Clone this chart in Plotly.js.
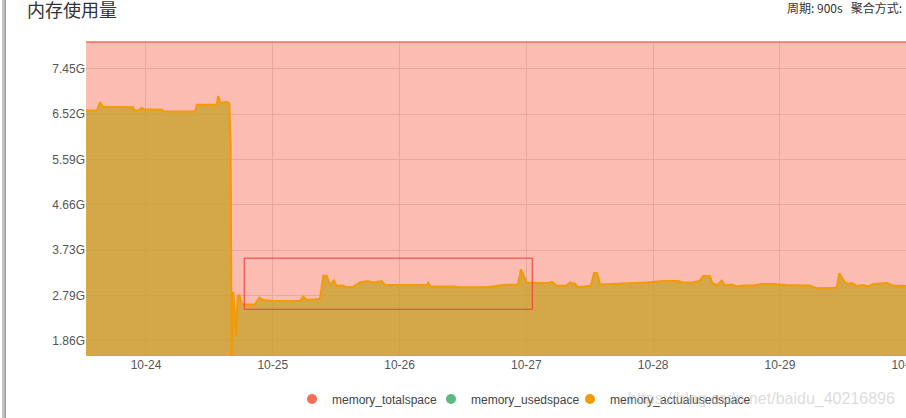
<!DOCTYPE html>
<html>
<head>
<meta charset="utf-8">
<script src="https://cdn.plot.ly/plotly-3.0.1.min.js"></script>
<style>
html,body{margin:0;padding:0;overflow:hidden;background:#fff;width:906px;height:418px;}
#wrap{position:relative;width:906px;height:418px;overflow:hidden;}
#chart{position:absolute;left:0;top:0;width:1060px;height:418px;}
#edge{position:absolute;left:2px;top:0;width:4px;height:418px;background:linear-gradient(to right,#c8c8c8 0,#bdbdbd 60%,#8c8c8c 100%);z-index:5;}
</style>
</head>
<body>
<div id="wrap"><div id="chart"></div><div id="edge"></div></div>
<script>
// ---- data (memory in GiB) ----
const sampleTimes = [
 '2019-10-23 12:39','2019-10-23 14:43','2019-10-23 15:18','2019-10-23 15:52','2019-10-23 21:32',
 '2019-10-23 21:55','2019-10-23 22:40','2019-10-23 23:11','2019-10-23 23:37','2019-10-24 02:58',
 '2019-10-24 03:24','2019-10-24 09:16','2019-10-24 09:39','2019-10-24 13:23','2019-10-24 13:41',
 '2019-10-24 14:08','2019-10-24 15:16','2019-10-24 15:46','2019-10-24 16:02','2019-10-24 16:13',
 '2019-10-24 16:31','2019-10-24 16:51','2019-10-24 17:02','2019-10-24 17:21','2019-10-24 17:40',
 '2019-10-24 18:07','2019-10-24 18:44','2019-10-24 20:38','2019-10-24 21:27','2019-10-24 22:12',
 '2019-10-25 00:02','2019-10-25 05:09','2019-10-25 05:46','2019-10-25 06:25','2019-10-25 08:56',
 '2019-10-25 09:34','2019-10-25 10:12','2019-10-25 10:50','2019-10-25 11:35','2019-10-25 12:06',
 '2019-10-25 13:17','2019-10-25 13:59','2019-10-25 15:11','2019-10-25 16:30','2019-10-25 18:01',
 '2019-10-25 18:58','2019-10-25 20:37','2019-10-25 21:14','2019-10-26 05:08','2019-10-26 05:26',
 '2019-10-26 05:45','2019-10-26 10:07','2019-10-26 11:26','2019-10-26 16:29','2019-10-26 19:34',
 '2019-10-26 22:25','2019-10-26 22:59','2019-10-26 23:33','2019-10-27 00:04','2019-10-27 01:15',
 '2019-10-27 04:28','2019-10-27 04:51','2019-10-27 05:44','2019-10-27 07:38','2019-10-27 08:15',
 '2019-10-27 09:12','2019-10-27 09:46','2019-10-27 11:40','2019-10-27 12:14','2019-10-27 12:48',
 '2019-10-27 13:25','2019-10-27 13:56','2019-10-27 16:24','2019-10-27 17:43','2019-10-27 22:46',
 '2019-10-28 01:55','2019-10-28 04:45','2019-10-28 05:24','2019-10-28 07:32','2019-10-28 08:14',
 '2019-10-28 08:52','2019-10-28 09:29','2019-10-28 10:45','2019-10-28 11:11','2019-10-28 12:01',
 '2019-10-28 12:58','2019-10-28 13:36','2019-10-28 14:52','2019-10-28 15:49','2019-10-28 17:04',
 '2019-10-28 18:57','2019-10-28 20:33','2019-10-28 22:44','2019-10-29 01:16','2019-10-29 03:48',
 '2019-10-29 05:41','2019-10-29 06:57','2019-10-29 10:44','2019-10-29 11:14','2019-10-29 11:41',
 '2019-10-29 12:18','2019-10-29 12:56','2019-10-29 13:35','2019-10-29 14:31','2019-10-29 15:46',
 '2019-10-29 16:43','2019-10-29 17:40','2019-10-29 20:12','2019-10-29 21:27','2019-10-29 23:51',
 '2019-10-30 01:34'
];
const actualUsedSpace = [
 6.59,6.59,6.76,6.67,6.66,
 6.59,6.60,6.65,6.62,6.61,
 6.57,6.57,6.71,6.71,6.89,
 6.74,6.77,6.74,5.85,1.00,
 2.87,2.44,1.95,2.77,2.81,
 2.63,2.61,2.61,2.75,2.70,
 2.68,2.68,2.77,2.70,2.72,
 3.20,3.20,3.01,3.10,2.99,
 3.00,2.96,2.97,3.06,3.09,
 3.06,3.09,3.01,3.01,3.05,
 2.98,2.98,2.96,2.96,3.01,
 3.02,3.33,3.18,3.06,3.05,
 3.05,3.07,2.99,3.00,3.06,
 3.03,2.96,2.99,3.00,3.26,
 3.25,3.02,3.03,3.05,3.06,
 3.09,3.09,3.06,3.06,3.08,
 3.10,3.20,3.19,3.05,3.00,
 3.10,3.00,3.02,2.98,3.00,
 3.00,3.03,3.03,3.01,3.01,
 3.00,2.94,2.95,3.25,3.18,
 3.06,3.03,3.05,2.99,3.01,
 2.98,3.03,3.05,3.00,2.99,
 3.00
];
const totalTimes = ['2019-10-23 12:00','2019-10-24 00:00','2019-10-25 00:00','2019-10-26 00:00',
 '2019-10-27 00:00','2019-10-28 00:00','2019-10-29 00:00','2019-10-30 00:00','2019-10-31 00:00'];
const totalSpace = [8.0,8.0,8.0,8.0,8.0,8.0,8.0,8.0,8.0];
const seriesNames = ['memory_totalspace','memory_usedspace','memory_actualusedspace'];
const yTickValues = [1.8626,2.7940,3.7253,4.6566,5.5879,6.5193,7.4506];
const yTickLabels = ['1.86G','2.79G','3.73G','4.66G','5.59G','6.52G','7.45G'];
// highlighted region (drawn box on screenshot)
const boxX = ['2019-10-24 18:36','2019-10-27 01:07'];
const boxY = [2.51,3.56];

const RED = '#f56c58', GREEN = '#5cb885', ORANGE = '#f39a05';
const latin = 'Liberation Sans, Arial, sans-serif';
const cjk = 'Noto Sans CJK SC, sans-serif';

const traces = [
 {x: totalTimes, y: totalSpace, type:'scatter', mode:'lines', fill:'tozeroy',
  line:{color:RED, width:1.5}, fillcolor:'rgba(247,108,88,0.46)', showlegend:false, hoverinfo:'skip'},
 {x: sampleTimes, y: actualUsedSpace, type:'scatter', mode:'lines', fill:'tozeroy',
  line:{color:ORANGE, width:2}, fillcolor:'rgba(195,160,29,0.70)', showlegend:false, hoverinfo:'skip'},
 {x:[null], y:[null], type:'scatter', mode:'markers', name:seriesNames[0], marker:{color:RED, size:10}},
 {x:[null], y:[null], type:'scatter', mode:'markers', name:seriesNames[1], marker:{color:GREEN, size:10}},
 {x:[null], y:[null], type:'scatter', mode:'markers', name:seriesNames[2], marker:{color:ORANGE, size:10}},
 // spacer entry so the last legend label is not clipped
 {x:[null], y:[null], type:'scatter', mode:'markers', name:' ', marker:{color:'rgba(0,0,0,0)', size:10}}
];

const layout = {
 width:1060, height:418,
 margin:{l:86, r:40, t:41, b:62, pad:0},
 paper_bgcolor:'#fff', plot_bgcolor:'#fff',
 title:{text:'内存使用量', font:{family:cjk, size:18, color:'#333'}, xref:'container', yref:'container',
        x:27/1060, xanchor:'left', y:1-11/418, yanchor:'middle'},
 xaxis:{type:'date', range:['2019-10-23 12:39','2019-10-30 21:26'], tick0:'2019-10-24', dtick:86400000,
        tickformat:'%m-%d', showgrid:true, gridcolor:'#e0d9d9', gridwidth:1, zeroline:false, showline:false,
        ticks:'', tickfont:{family:latin, size:12, color:'#555'}, fixedrange:true},
 yaxis:{range:[1.55,8.02], tickvals:yTickValues, ticktext:yTickLabels, showgrid:true, gridcolor:'#e0d9d9',
        gridwidth:1, zeroline:false, showline:false, ticks:'', tickfont:{family:latin, size:12, color:'#555'},
        fixedrange:true},
 showlegend:true,
 legend:{orientation:'h', xref:'container', yref:'container', x:292/1060, xanchor:'left', y:19/418, yanchor:'middle',
         font:{family:latin, size:12, color:'#444'}, bgcolor:'rgba(0,0,0,0)', itemwidth:30, traceorder:'normal',
         entrywidth:94, entrywidthmode:'pixels'},
 hovermode:false,
 shapes:[{type:'rect', xref:'x', yref:'y', x0:boxX[0], x1:boxX[1], y0:boxY[0], y1:boxY[1],
          line:{color:'#f0383c', width:1}, fillcolor:'rgba(0,0,0,0)', layer:'above'}],
 annotations:[
  {text:'周期: 900s &nbsp; 聚合方式:', xref:'paper', yref:'paper', x:(785-86)/934, xanchor:'left',
   y:1+(41-8)/315, yanchor:'middle', showarrow:false, font:{family:cjk, size:12, color:'#333'}},
  {text:'https://blog.csdn.net/baidu_40216896', xref:'paper', yref:'paper', x:(897-86)/934, xanchor:'right',
   y:(356-399)/315, yanchor:'middle', showarrow:false, font:{family:latin, size:16, color:'rgba(190,190,190,0.55)'}}
 ]
};

Plotly.newPlot('chart', traces, layout, {staticPlot:true, displayModeBar:false});
</script>
</body>
</html>
